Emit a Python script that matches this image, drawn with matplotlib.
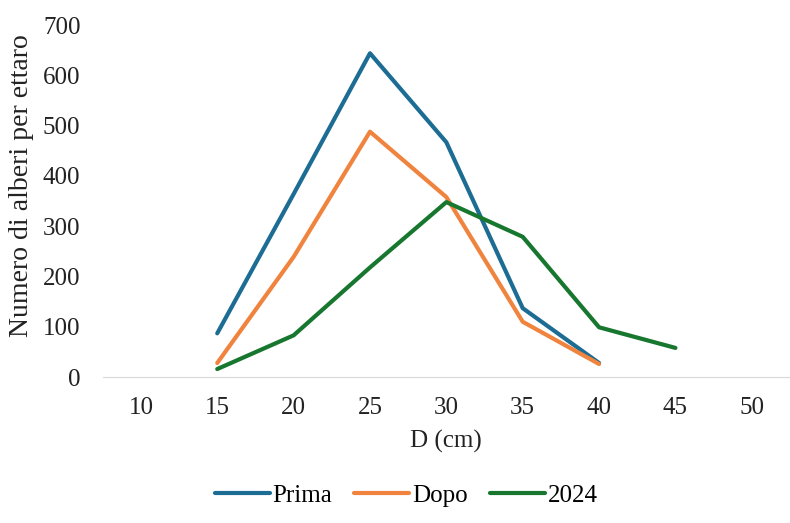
import matplotlib.pyplot as plt

plt.rcParams['font.family'] = ['Liberation Serif', 'DejaVu Serif']

categories = ['10', '15', '20', '25', '30', '35', '40', '45', '50']
prima = [None, 87, 364, 644, 467, 137, 28, None, None]
dopo = [None, 28, 239, 488, 358, 110, 26, None, None]
anno_2024 = [None, 16, 83, 218, 348, 279, 99, 58, None]

fig = plt.figure(figsize=(7.9, 5.23), dpi=100)
ax = fig.add_axes([0.130, 0.279, 0.870, 0.673])

x = list(range(len(categories)))


def series(vals):
    xs = [i for i, v in zip(x, vals) if v is not None]
    ys = [v for v in vals if v is not None]
    return xs, ys


ax.plot(*series(prima), color='#1c6c94', lw=3, label='Prima', solid_capstyle='round')
ax.plot(*series(dopo), color='#f0843f', lw=3, label='Dopo', solid_capstyle='round')
ax.plot(*series(anno_2024), color='#17772f', lw=3, label='2024', solid_capstyle='round')

ax.set_xlim(-0.5, len(categories) - 0.5)
ax.set_ylim(0, 700)
ax.set_xticks(x)
ax.set_xticklabels(categories)
ax.set_yticks(range(0, 701, 100))
ax.tick_params(length=0, labelsize=18, colors='#222222')
ax.tick_params(axis='y', pad=16)
ax.tick_params(axis='x', pad=14)
for s in ['top', 'right', 'left']:
    ax.spines[s].set_visible(False)
ax.spines['bottom'].set_color('#d9d9d9')

ax.set_xlabel('D (cm)', fontsize=18, color='#222222', labelpad=8)
ax.set_ylabel('Numero di alberi per ettaro', fontsize=20, color='#222222')
ax.yaxis.set_label_coords(-0.100, 0.545)

fig.legend(loc='lower center', bbox_to_anchor=(0.514, -0.012), ncol=3, frameon=False,
           fontsize=18, handlelength=2.2, handletextpad=0.1, columnspacing=0.9)

fig.savefig('out.png', dpi=100)
